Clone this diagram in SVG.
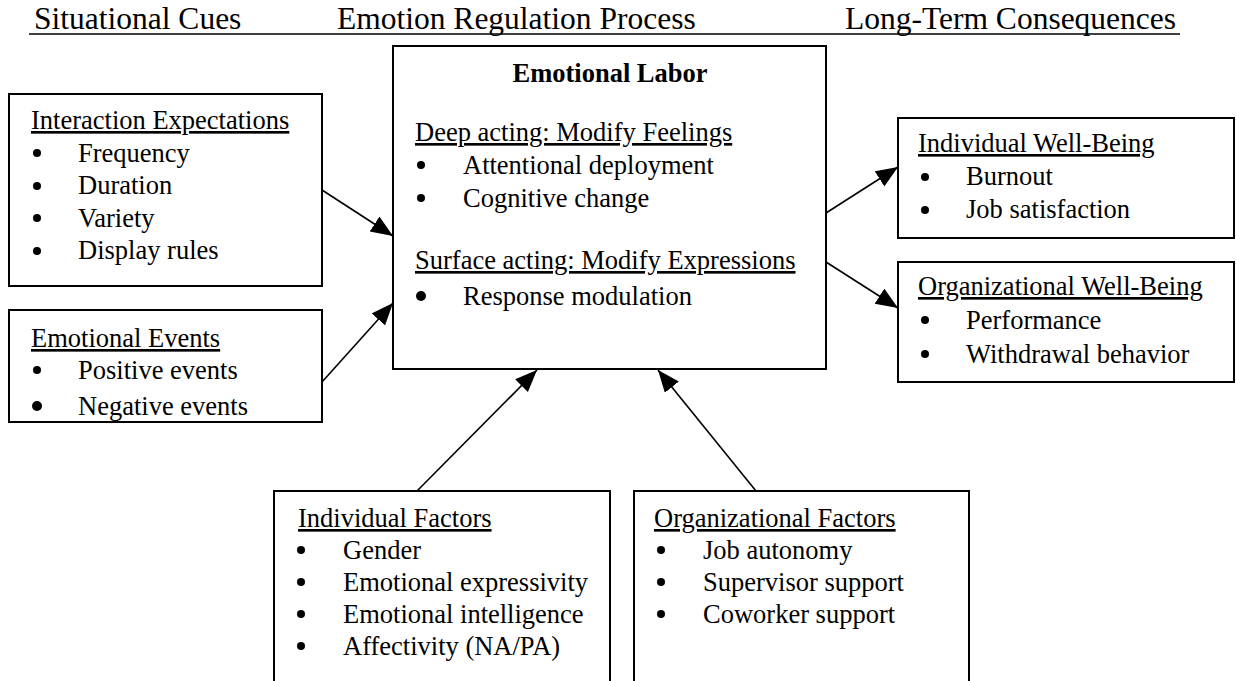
<svg xmlns="http://www.w3.org/2000/svg" width="1236" height="681" viewBox="0 0 1236 681">
<style>
  .box { fill: #fff; stroke: #000; stroke-width: 2; }
  .t { font-family: "Liberation Serif", "Times New Roman", "DejaVu Serif", serif; font-size: 26.5px; fill: #000; }
  .h { font-family: "Liberation Serif", "Times New Roman", "DejaVu Serif", serif; font-size: 31.5px; fill: #000; }
  .b { font-weight: bold; }
  .u { text-decoration: underline; }
  .conn line { stroke: #000; stroke-width: 1.6; }
</style>
<defs>
  <marker id="arr" markerUnits="userSpaceOnUse" markerWidth="24" markerHeight="20" refX="22" refY="9" orient="auto">
    <path d="M0,0 L22,9 L0,18 Z" fill="#000"/>
  </marker>
  <circle id="dot" r="4" fill="#000"/>
  <circle id="bigdot" r="5" fill="#000"/>
</defs>
<rect width="1236" height="681" fill="#fff"/>

<g id="header">
  <text class="h" x="34" y="29">Situational Cues</text>
  <text class="h" x="337" y="29">Emotion Regulation Process</text>
  <text class="h" x="845" y="29">Long-Term Consequences</text>
  <line x1="29" y1="34" x2="1180" y2="34" stroke="#000" stroke-width="1.5"/>
</g>

<g id="emotional-labor">
  <rect class="box" x="393" y="46" width="433" height="323"/>
  <text class="t b" x="610" y="82" text-anchor="middle">Emotional Labor</text>
  <text class="t u" x="415" y="141">Deep acting: Modify Feelings</text>
  <use href="#dot" x="421" y="165"/>
  <text class="t" x="463" y="174">Attentional deployment</text>
  <use href="#dot" x="421" y="198"/>
  <text class="t" x="463" y="207">Cognitive change</text>
  <text class="t u" x="415" y="269">Surface acting: Modify Expressions</text>
  <use href="#bigdot" x="421" y="296"/>
  <text class="t" x="463" y="305">Response modulation</text>
</g>

<g id="interaction-expectations">
  <rect class="box" x="9" y="94" width="313" height="192"/>
  <text class="t u" x="31" y="129">Interaction Expectations</text>
  <use href="#dot" x="37" y="153"/>
  <text class="t" x="78" y="162">Frequency</text>
  <use href="#dot" x="37" y="186"/>
  <text class="t" x="78" y="194">Duration</text>
  <use href="#dot" x="37" y="218"/>
  <text class="t" x="78" y="227">Variety</text>
  <use href="#dot" x="37" y="251"/>
  <text class="t" x="78" y="259">Display rules</text>
</g>

<g id="emotional-events">
  <rect class="box" x="9" y="310" width="313" height="112"/>
  <text class="t u" x="31" y="347">Emotional Events</text>
  <use href="#dot" x="37" y="370"/>
  <text class="t" x="78" y="379">Positive events</text>
  <use href="#bigdot" x="37" y="406"/>
  <text class="t" x="78" y="415">Negative events</text>
</g>

<g id="individual-well-being">
  <rect class="box" x="898" y="118" width="336" height="120"/>
  <text class="t u" x="918" y="152">Individual Well-Being</text>
  <use href="#dot" x="925" y="177"/>
  <text class="t" x="966" y="185">Burnout</text>
  <use href="#dot" x="925" y="210"/>
  <text class="t" x="966" y="218">Job satisfaction</text>
</g>

<g id="organizational-well-being">
  <rect class="box" x="898" y="262" width="336" height="120"/>
  <text class="t u" x="918" y="295">Organizational Well-Being</text>
  <use href="#dot" x="925" y="320"/>
  <text class="t" x="966" y="329">Performance</text>
  <use href="#dot" x="925" y="354"/>
  <text class="t" x="966" y="363">Withdrawal behavior</text>
</g>

<g id="individual-factors">
  <rect class="box" x="274" y="491" width="336" height="205"/>
  <text class="t u" x="298" y="527">Individual Factors</text>
  <use href="#dot" x="301" y="550"/>
  <text class="t" x="343" y="559">Gender</text>
  <use href="#dot" x="301" y="582"/>
  <text class="t" x="343" y="591">Emotional expressivity</text>
  <use href="#dot" x="301" y="614"/>
  <text class="t" x="343" y="623">Emotional intelligence</text>
  <use href="#dot" x="301" y="646"/>
  <text class="t" x="343" y="655">Affectivity (NA/PA)</text>
</g>

<g id="organizational-factors">
  <rect class="box" x="634" y="491" width="335" height="205"/>
  <text class="t u" x="654" y="527">Organizational Factors</text>
  <use href="#dot" x="661" y="550"/>
  <text class="t" x="703" y="559">Job autonomy</text>
  <use href="#dot" x="661" y="582"/>
  <text class="t" x="703" y="591">Supervisor support</text>
  <use href="#dot" x="661" y="614"/>
  <text class="t" x="703" y="623">Coworker support</text>
</g>

<g id="connectors" class="conn">
  <line x1="322" y1="190" x2="393" y2="236" marker-end="url(#arr)"/>
  <line x1="322" y1="382" x2="393" y2="303" marker-end="url(#arr)"/>
  <line x1="826" y1="213" x2="898" y2="167" marker-end="url(#arr)"/>
  <line x1="826" y1="262" x2="898" y2="308" marker-end="url(#arr)"/>
  <line x1="417" y1="491" x2="537" y2="370" marker-end="url(#arr)"/>
  <line x1="756" y1="491" x2="658" y2="370" marker-end="url(#arr)"/>
</g>
</svg>
